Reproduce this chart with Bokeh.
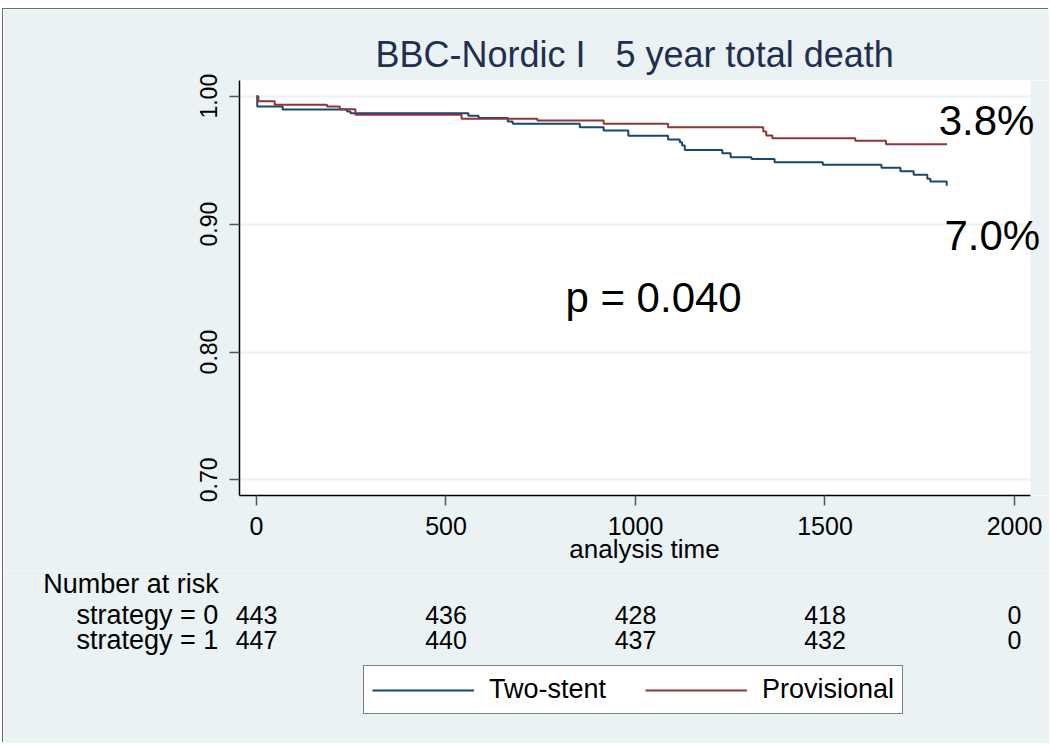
from bokeh.plotting import figure
from bokeh.layouts import column
from bokeh.models import (Range1d, FixedTicker, NumeralTickFormatter, Label, Legend,
                          LegendItem, BoxAnnotation)
from bokeh.core.properties import value
from bokeh.embed import file_html
from bokeh.resources import INLINE

# ---------------- data ----------------
time_two = [0, 2, 69, 239, 248, 559, 586, 663, 676, 853, 916, 981, 1086, 1117, 1123, 1130,
            1229, 1251, 1306, 1367, 1494, 1649, 1699, 1734, 1770, 1778, 1821]
surv_two = [1.0, 0.992, 0.9896, 0.988, 0.9867, 0.9847, 0.983, 0.9802, 0.9784, 0.9758, 0.9732,
            0.969, 0.9661, 0.964, 0.9615, 0.958, 0.9554, 0.9523, 0.951, 0.9484, 0.9464, 0.944,
            0.9414, 0.9385, 0.9354, 0.9333, 0.930]

time_prov = [0, 5, 48, 186, 220, 261, 541, 741, 916, 1086, 1337, 1345, 1361, 1580, 1661, 1822]
surv_prov = [1.0, 0.996, 0.9933, 0.992, 0.9898, 0.9855, 0.9823, 0.981, 0.9784, 0.9758, 0.9725,
             0.9693, 0.9672, 0.9651, 0.9625, 0.9625]

series_names = ["Two-stent", "Provisional"]
x_ticks = [0, 500, 1000, 1500, 2000]
y_ticks = [0.70, 0.80, 0.90, 1.00]

risk_times = [0, 500, 1000, 1500, 2000]
risk_strategy0 = [443, 436, 428, 418, 0]
risk_strategy1 = [447, 440, 437, 432, 0]
risk_header = "Number at risk"
risk_row_names = ["strategy = 0", "strategy = 1"]

end_label_prov = "3.8%"
end_label_two = "7.0%"
p_value_text = "p = 0.040"

title_text = "BBC-Nordic I\u00a0\u00a0 5 year total death"
x_title = "analysis time"

# ---------------- style / layout ----------------
FONT = "Liberation Sans"
BG = "#EAF2F3"
NAVY = "#1A476F"
MAROON = "#90353B"

W = 1046                 # figure widths
MBL = 236                # left border of main plot
PPU = 0.379              # pixels per day
X_START = -44.85
X_END = X_START + (W - MBL) / PPU
X_PLOT_END = 2042.2      # end of white plot region
Y_BOT, Y_TOP = 0.68781, 1.01228

H1 = 561
H2 = 173

p = figure(width=W, height=H1, output_backend="svg", toolbar_location=None,
           x_range=Range1d(X_START, X_END), y_range=Range1d(Y_BOT, Y_TOP),
           min_border_left=MBL, min_border_right=0, min_border_top=71, min_border_bottom=75,
           background_fill_color="white", border_fill_color=BG, outline_line_color=None,
           title=title_text)
p.frame_align = False

p.title.align = "left"
p.title.offset = 136
p.title.text_font = FONT
p.title.text_font_size = "36px"
p.title.text_font_style = "normal"
p.title.text_color = "#1F2F4F"
p.title.standoff = 11

for ax in (p.xaxis[0], p.yaxis[0]):
    ax.axis_line_color = "black"
    ax.axis_line_width = 1.5
    ax.major_tick_line_color = "#555555"
    ax.major_tick_line_width = 1.5
    ax.major_tick_out = 10
    ax.major_tick_in = 0
    ax.minor_tick_out = 0
    ax.minor_tick_in = 0
    ax.major_label_text_font = FONT
    ax.major_label_text_color = "black"

p.xaxis.ticker = FixedTicker(ticks=x_ticks)
p.xaxis.bounds = (X_START, X_PLOT_END)
p.xaxis.major_label_text_font_size = "25px"
p.xaxis.major_label_standoff = 11
p.xaxis.axis_label = x_title
p.xaxis.axis_label_text_font = FONT
p.xaxis.axis_label_text_font_size = "26px"
p.xaxis.axis_label_text_font_style = "normal"
p.xaxis.axis_label_text_color = "black"
p.xaxis.axis_label_standoff = -4

p.yaxis.ticker = FixedTicker(ticks=y_ticks)
p.yaxis.formatter = NumeralTickFormatter(format="0.00")
p.yaxis.major_label_orientation = "vertical"
p.yaxis.major_label_text_font_size = "23px"
p.yaxis.major_label_standoff = 12

p.xgrid.visible = False
p.ygrid.grid_line_color = BG
p.ygrid.grid_line_width = 2

r_two = p.step(time_two, surv_two, mode="after", line_color=NAVY, line_width=2)
r_prov = p.step(time_prov, surv_prov, mode="after", line_color=MAROON, line_width=2)

# background strip right of the plot region
p.add_layout(BoxAnnotation(left=X_PLOT_END, fill_color=BG, fill_alpha=1, line_color=None))

big = dict(text_font=FONT, text_font_size="42px", text_color="black", text_baseline="alphabetic")
p.add_layout(Label(x=1800, y=0.9811, text=end_label_prov, **big))
p.add_layout(Label(x=1815, y=0.8911, text=end_label_two, **big))
p.add_layout(Label(x=815, y=0.8427, text=p_value_text, **big))

# ---------------- number-at-risk table + legend ----------------
X2_START = X_START - MBL / PPU
X2_END = X2_START + W / PPU
q = figure(width=W, height=H2, output_backend="svg", toolbar_location=None,
           x_range=Range1d(X2_START, X2_END), y_range=Range1d(H2, 0),
           min_border=0, min_border_left=0, min_border_right=0, min_border_top=0,
           min_border_bottom=0, x_axis_type=None, y_axis_type=None,
           background_fill_color=BG, border_fill_color=BG, outline_line_color=None)
q.frame_align = False
q.xgrid.visible = False
q.ygrid.grid_line_color = None

def px_x(px):
    return X2_START + (px - 3) / PPU

row_base = [44.0, 69.0]
q.text(x=[px_x(42.7)], y=[13.7], text=[risk_header], text_font=value(FONT),
       text_font_size="27px", text_color="black", text_baseline="alphabetic")
q.text(x=[px_x(76)] * 2, y=row_base, text=risk_row_names, text_font=value(FONT),
       text_font_size="27px", text_color="black", text_baseline="alphabetic")
for counts, yy in zip([risk_strategy0, risk_strategy1], row_base):
    q.text(x=risk_times, y=[yy] * len(risk_times), text=[str(n) for n in counts],
           text_font=value(FONT), text_font_size="25px", text_color="black",
           text_align="center", text_baseline="alphabetic")

nan = float("nan")
l_two = q.line(x=[nan], y=[nan], line_color=NAVY, line_width=2)
l_prov = q.line(x=[nan], y=[nan], line_color=MAROON, line_width=2)
legend = Legend(items=[LegendItem(label=series_names[0], renderers=[l_two]),
                       LegendItem(label=series_names[1], renderers=[l_prov])],
                orientation="horizontal", location=(360, 29),
                border_line_color="black", border_line_width=1,
                background_fill_color="white", background_fill_alpha=1,
                label_text_font=FONT, label_text_font_size="27px", label_text_color="black",
                glyph_width=102, glyph_height=20, label_standoff=15,
                spacing=39, padding=8, margin=0)
q.add_layout(legend)

layout = column(p, q, spacing=0, margin=(9, 0, 0, 3),
                styles={"box-shadow": "-1px -1px 0 0 #6e6e6e"})

open("out.html", "w").write(file_html(layout, INLINE))
